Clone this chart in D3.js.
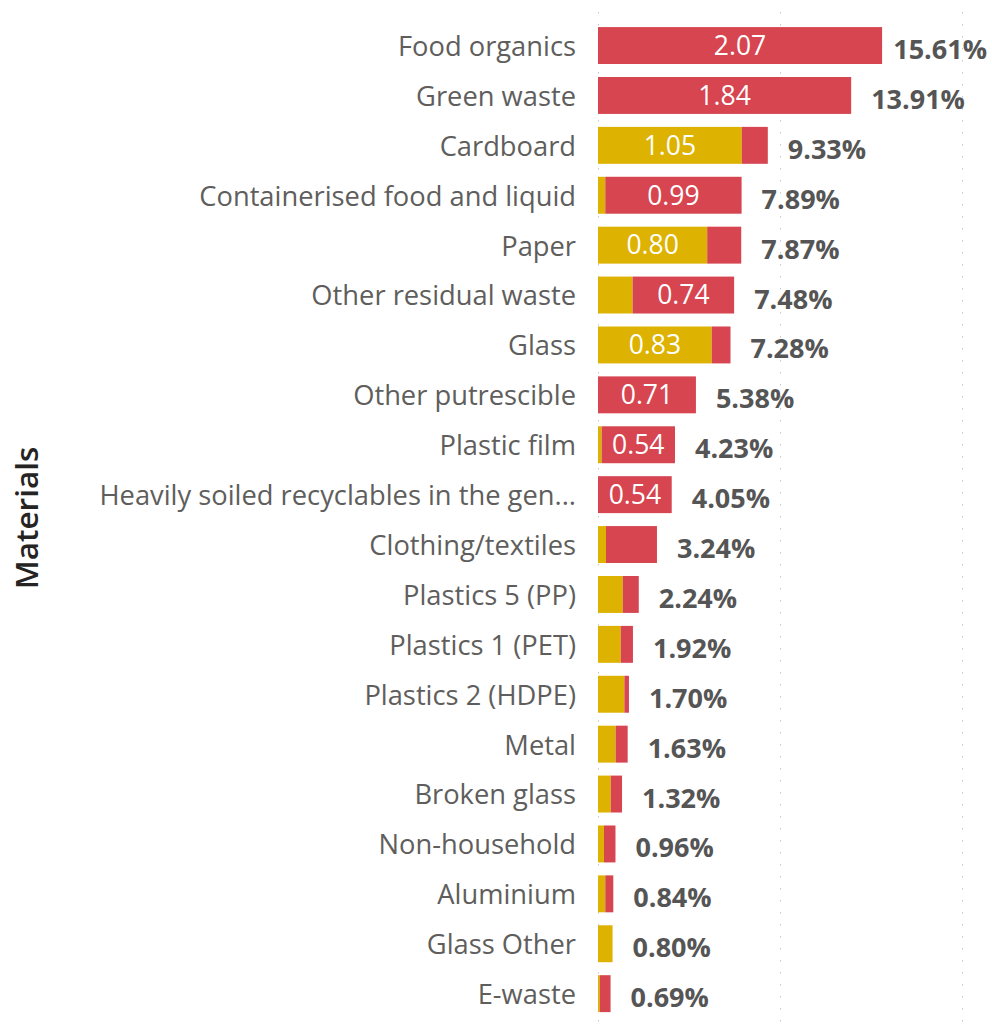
<!DOCTYPE html>
<html>
<head>
<meta charset="utf-8">
<script src="https://cdn.jsdelivr.net/npm/d3@7"></script>
<style>
  body { margin: 0; background: #fff; }
  svg { display: block; font-family: "Open Sans", "Noto Sans", sans-serif; }
</style>
</head>
<body>
<svg></svg>
<script>
// categories, top to bottom
let materials = [
    'Food organics', 'Green waste', 'Cardboard', 'Containerised food and liquid',
    'Paper', 'Other residual waste', 'Glass', 'Other putrescible', 'Plastic film',
    'Heavily soiled recyclables in the gen...', 'Clothing/textiles', 'Plastics 5 (PP)',
    'Plastics 1 (PET)', 'Plastics 2 (HDPE)', 'Metal', 'Broken glass', 'Non-household',
    'Aluminium', 'Glass Other', 'E-waste'
]
// share of total (%) shown at the end of each bar
let totalShare = [15.61, 13.91, 9.33, 7.89, 7.87, 7.48, 7.28, 5.38, 4.23, 4.05,
                  3.24, 2.24, 1.92, 1.70, 1.63, 1.32, 0.96, 0.84, 0.80, 0.69]
// yellow part of each bar (%), the red part is the rest
let yellowShare = [0, 0, 7.90, 0.40, 6.00, 1.90, 6.25, 0, 0.20, 0,
                   0.44, 1.36, 1.25, 1.45, 0.97, 0.70, 0.33, 0.40, 0.80, 0.10]
// data labels inside the segments (null = not shown)
let yellowLabel = [null, null, 1.05, null, 0.80, null, 0.83, null, null, null,
                   null, null, null, null, null, null, null, null, null, null]
let redLabel = [2.07, 1.84, null, 0.99, null, 0.74, null, 0.71, 0.54, 0.54,
                null, null, null, null, null, null, null, null, null, null]
let gridTicks = [0, 10, 20]

let width = 992
let height = 1027
let x0 = 598

let yellow = '#DDB200'
let red = '#D64550'

let svg = d3.select('svg').attr('width', width).attr('height', height)

let rows = materials.map((m, i) => ({
    name: m,
    total: totalShare[i],
    yellow: yellowShare[i],
    red: totalShare[i] - yellowShare[i],
    yLabel: yellowLabel[i],
    rLabel: redLabel[i]
}))

let xScale = d3.scaleLinear().domain([0, 20]).range([x0, x0 + 364])
let yScale = d3.scaleBand()
               .domain(materials)
               .range([20.6, 1018.6])
               .paddingInner(0.26)
               .paddingOuter(0.13)

// dotted gridlines
svg.append('g')
   .selectAll('line')
   .data(gridTicks)
   .enter()
   .append('line')
   .attr('x1', d => Math.round(xScale(d)) + 0.5)
   .attr('x2', d => Math.round(xScale(d)) + 0.5)
   .attr('y1', 12)
   .attr('y2', 1022)
   .attr('stroke', '#c8c8c8')
   .attr('stroke-width', 1)
   .attr('stroke-dasharray', '1.5,10.5')

// category axis
let yAxis = d3.axisLeft(yScale).tickSize(0).tickPadding(22)
let yAxisG = svg.append('g')
   .attr('transform', 'translate(' + x0 + ',0)')
   .call(yAxis)
   .attr('font-family', null)
   .attr('font-size', null)
yAxisG.select('.domain').remove()
yAxisG.selectAll('text')
   .attr('fill', '#605E5C')
   .attr('dy', '0.38em')
   .style('font-size', '27.3px')

let bars = svg.append('g')
   .selectAll('g')
   .data(rows)
   .enter()
   .append('g')

bars.append('rect')
    .attr('x', d => xScale(0))
    .attr('y', d => yScale(d.name))
    .attr('width', d => xScale(d.yellow) - xScale(0))
    .attr('height', yScale.bandwidth())
    .attr('fill', yellow)

bars.append('rect')
    .attr('x', d => xScale(d.yellow))
    .attr('y', d => yScale(d.name))
    .attr('width', d => xScale(d.total) - xScale(d.yellow))
    .attr('height', yScale.bandwidth())
    .attr('fill', red)

// labels inside the segments
bars.filter(d => d.yLabel != null)
    .append('text')
    .attr('x', d => (xScale(0) + xScale(d.yellow)) / 2)
    .attr('y', d => yScale(d.name) + yScale.bandwidth() / 2)
    .attr('text-anchor', 'middle')
    .attr('dy', '0.35em')
    .attr('fill', '#fff')
    .style('font-size', '26.5px')
    .text(d => d.yLabel.toFixed(2))

bars.filter(d => d.rLabel != null)
    .append('text')
    .attr('x', d => (xScale(d.yellow) + xScale(d.total)) / 2)
    .attr('y', d => yScale(d.name) + yScale.bandwidth() / 2)
    .attr('text-anchor', 'middle')
    .attr('dy', '0.35em')
    .attr('fill', '#fff')
    .style('font-size', '26.5px')
    .text(d => d.rLabel.toFixed(2))

// share labels at the bar ends, kept inside the canvas
bars.append('text')
    .attr('x', d => xScale(d.total) + 20)
    .attr('y', d => yScale(d.name) + yScale.bandwidth() / 2 + 4)
    .attr('dy', '0.35em')
    .attr('fill', '#555')
    .style('font-size', '27px')
    .style('font-weight', 'bold')
    .text(d => d.total.toFixed(2) + '%')
    .each(function () {
        let t = d3.select(this)
        let w = this.getComputedTextLength()
        let x = +t.attr('x')
        if (x + w > width - 5) t.attr('x', width - 5 - w)
    })

// axis title
svg.append('text')
   .attr('transform', 'translate(27,518) rotate(-90)')
   .attr('text-anchor', 'middle')
   .attr('dy', '0.35em')
   .attr('fill', '#252423')
   .style('font-size', '31.5px')
   .style('font-weight', 600)
   .text('Materials')
</script>
</body>
</html>
